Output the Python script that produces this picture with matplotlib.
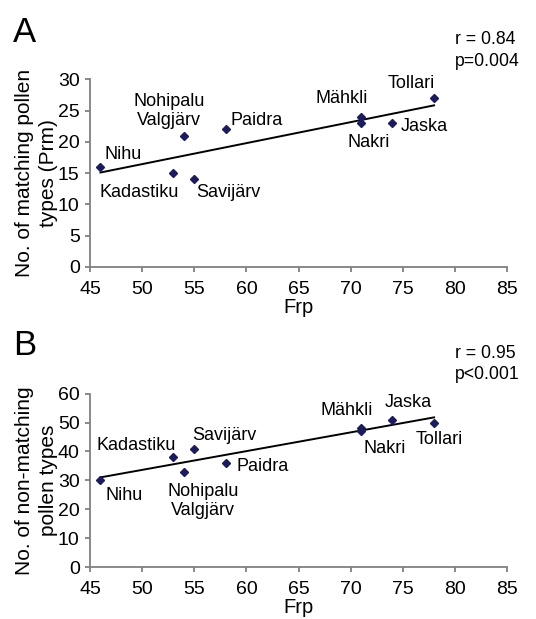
import numpy as np
import matplotlib
matplotlib.use("Agg")
import matplotlib.pyplot as plt

plt.rcParams["font.family"] = ["Liberation Sans", "DejaVu Sans"]

# Lakes and their values
lakes = ["Nihu", "Kadastiku", "Nohipalu\nValgjärv", "Savijärv", "Paidra",
         "Mähkli", "Nakri", "Jaska", "Tollari"]
frp = [46, 53, 54, 55, 58, 71, 71, 74, 78]
prm = [16, 15, 21, 14, 22, 24, 23, 23, 27]
non_matching = [30, 38, 33, 41, 36, 48, 47, 51, 50]

# label placement: (ha, va, dx_px, dy_px)
labels_a = [("left", "baseline", 4, 8), ("right", "top", 5, -11),
            ("center", "bottom", -15, 7), ("left", "top", 2, -5),
            ("left", "baseline", 5, 4), ("right", "bottom", 7, 10),
            ("center", "top", 8, -11), ("left", "center", 8, -3),
            ("right", "bottom", 1, 6)]
labels_b = [("left", "top", 5, -7), ("right", "baseline", 2, 7),
            ("center", "top", 19, -11), ("left", "baseline", -2, 9),
            ("left", "center", 11, -3), ("right", "bottom", 12, 9),
            ("left", "top", 2, -9), ("center", "bottom", 16, 9),
            ("center", "top", 5, -8)]

W, H = 536, 619
fig = plt.figure(figsize=(W / 100, H / 100), dpi=100)

SPINE = "#808080"
MARK = "#1c1c5c"


def panel(rect, y, ymax, ystep, ylabel, placements, letter, letter_y, stats, stats_y):
    ax = fig.add_axes(rect)
    x = np.array(frp, dtype=float)
    y = np.array(y, dtype=float)
    ax.plot(x, y, "D", color=MARK, markersize=4.2, zorder=3)
    k, b = np.polyfit(x, y, 1)
    xx = np.array([x.min(), x.max()])
    ax.plot(xx, k * xx + b, "-", color="black", linewidth=1.4, zorder=2)
    for name, xi, yi, (ha, va, dx, dy) in zip(lakes, x, y, placements):
        ax.annotate(name, (xi, yi), xytext=(dx, dy), textcoords="offset pixels",
                    ha=ha, va=va, fontsize=13, multialignment="center",
                    linespacing=1.15)
    ax.set_xlim(45, 85)
    ax.set_ylim(0, ymax)
    ax.set_xticks(np.arange(45, 86, 5))
    ax.set_yticks(np.arange(0, ymax + 1, ystep))
    for s in ("top", "right"):
        ax.spines[s].set_visible(False)
    for s in ("left", "bottom"):
        ax.spines[s].set_color(SPINE)
        ax.spines[s].set_linewidth(1.3)
    ax.tick_params(axis="x", length=3.5, width=1.3, color=SPINE, labelsize=14, pad=6.5)
    ax.tick_params(axis="y", length=3.5, width=1.3, color=SPINE, labelsize=14, pad=4)
    ax.set_xlabel("Frp", fontsize=14.5, labelpad=0)
    ax.set_ylabel(ylabel, fontsize=15, linespacing=1.32)
    ax.yaxis.set_label_coords(-0.078, 0.5)
    fig.text(13 / W, 1 - letter_y / H, letter, fontsize=25, va="baseline")
    for txt, yy in zip(stats, stats_y):
        fig.text(455 / W, 1 - yy / H, txt, fontsize=12.7, va="baseline")
    return ax


panel([0.168, 0.5687, 0.778, 0.303], prm, 30, 5,
      "No. of matching pollen\ntypes (Prm)", labels_a, "A", 42,
      ["r = 0.84", "p=0.004"], [44.5, 65.5])
panel([0.168, 0.084, 0.778, 0.280], non_matching, 60, 10,
      "No. of non-matching\npollen types", labels_b, "B", 355,
      ["r = 0.95", "p<0.001"], [358, 379])

fig.savefig("out.png", dpi=100)
